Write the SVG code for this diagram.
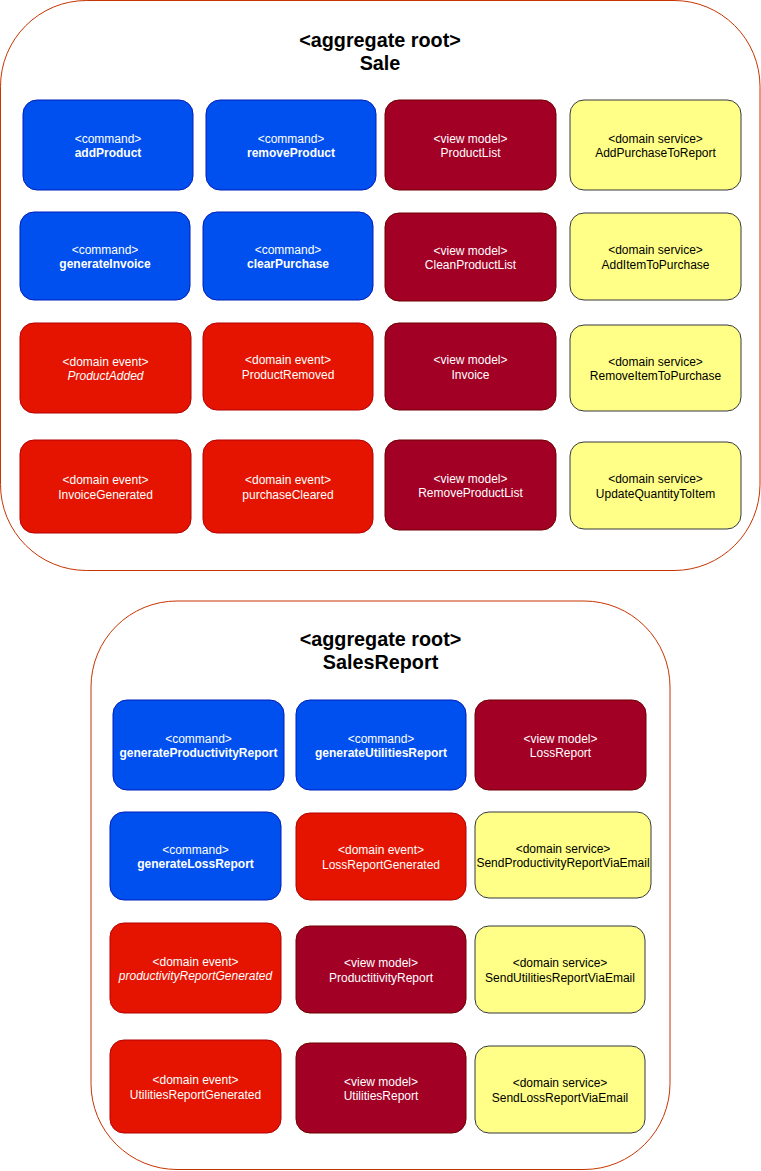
<svg xmlns="http://www.w3.org/2000/svg" width="761" height="1171" viewBox="0 0 761 1171">
<style>
text{font-family:"Liberation Sans",Arial,Helvetica,sans-serif;text-anchor:middle}
.agg{fill:#ffffff;stroke:#C73500;stroke-width:1}
.title{font-size:19.8px;font-weight:bold;fill:#000}
.cmd rect{fill:#0050EF;stroke:#001DBC}
.ev rect{fill:#E51400;stroke:#B20000}
.vm rect{fill:#A20025;stroke:#6F0000}
.ds rect{fill:#FFFF88;stroke:#36393D}
.n text{font-size:12px;fill:#ffffff}
.ds text{fill:#000000}
.cmd .l2{font-weight:bold}
.it{font-style:italic}
</style>
<g id="sale">
<rect class="agg" x="0.5" y="0.5" width="759.5" height="570" rx="86" ry="86"/>
<text class="title" x="380" y="46.5">&lt;aggregate root&gt;</text>
<text class="title" x="380" y="69.5">Sale</text>
</g>
<g id="salesreport">
<rect class="agg" x="91" y="601" width="579" height="568.5" rx="86" ry="86"/>
<text class="title" x="380.5" y="646">&lt;aggregate root&gt;</text>
<text class="title" x="380.5" y="669">SalesReport</text>
</g>
<g id="connectors"/>
<g id="addProduct" class="n cmd"><rect x="23" y="100" width="170" height="90" rx="14"/><text x="108" y="142.5">&lt;command&gt;</text><text class="l2" x="108" y="157">addProduct</text></g>
<g id="removeProduct" class="n cmd"><rect x="206" y="100" width="170" height="90" rx="14"/><text x="291" y="142.5">&lt;command&gt;</text><text class="l2" x="291" y="157">removeProduct</text></g>
<g id="ProductList" class="n vm"><rect x="385" y="100" width="171" height="90" rx="14"/><text x="470.5" y="142.5">&lt;view model&gt;</text><text x="470.5" y="157">ProductList</text></g>
<g id="AddPurchaseToReport" class="n ds"><rect x="570" y="100" width="171" height="90" rx="14"/><text x="655.5" y="142.5">&lt;domain service&gt;</text><text x="655.5" y="157">AddPurchaseToReport</text></g>

<g id="generateInvoice" class="n cmd"><rect x="20" y="212" width="170" height="88" rx="14"/><text x="105" y="253.5">&lt;command&gt;</text><text class="l2" x="105" y="268">generateInvoice</text></g>
<g id="clearPurchase" class="n cmd"><rect x="203" y="212" width="170" height="88" rx="14"/><text x="288" y="253.5">&lt;command&gt;</text><text class="l2" x="288" y="268">clearPurchase</text></g>
<g id="CleanProductList" class="n vm"><rect x="385" y="213" width="171" height="88" rx="14"/><text x="470.5" y="254.5">&lt;view model&gt;</text><text x="470.5" y="269">CleanProductList</text></g>
<g id="AddItemToPurchase" class="n ds"><rect x="570" y="213" width="171" height="87" rx="14"/><text x="655.5" y="254">&lt;domain service&gt;</text><text x="655.5" y="268.5">AddItemToPurchase</text></g>

<g id="ProductAdded" class="n ev"><rect x="20" y="323" width="171" height="90" rx="14"/><text x="105.5" y="365.5">&lt;domain event&gt;</text><text class="it" x="105.5" y="380">ProductAdded</text></g>
<g id="ProductRemoved" class="n ev"><rect x="203" y="323" width="170" height="87" rx="14"/><text x="288" y="364">&lt;domain event&gt;</text><text x="288" y="378.5">ProductRemoved</text></g>
<g id="Invoice" class="n vm"><rect x="385" y="323" width="171" height="87" rx="14"/><text x="470.5" y="364">&lt;view model&gt;</text><text x="470.5" y="378.5">Invoice</text></g>
<g id="RemoveItemToPurchase" class="n ds"><rect x="570" y="325" width="171" height="86" rx="14"/><text x="655.5" y="365.5">&lt;domain service&gt;</text><text x="655.5" y="380">RemoveItemToPurchase</text></g>

<g id="InvoiceGenerated" class="n ev"><rect x="20" y="440" width="171" height="93" rx="14"/><text x="105.5" y="484">&lt;domain event&gt;</text><text x="105.5" y="498.5">InvoiceGenerated</text></g>
<g id="purchaseCleared" class="n ev"><rect x="203" y="440" width="170" height="93" rx="14"/><text x="288" y="484">&lt;domain event&gt;</text><text x="288" y="498.5">purchaseCleared</text></g>
<g id="RemoveProductList" class="n vm"><rect x="385" y="440" width="171" height="90" rx="14"/><text x="470.5" y="482.5">&lt;view model&gt;</text><text x="470.5" y="497">RemoveProductList</text></g>
<g id="UpdateQuantityToItem" class="n ds"><rect x="570" y="442" width="171" height="87" rx="14"/><text x="655.5" y="483">&lt;domain service&gt;</text><text x="655.5" y="497.5">UpdateQuantityToItem</text></g>

<g id="generateProductivityReport" class="n cmd"><rect x="113" y="700" width="171" height="90" rx="14"/><text x="198.5" y="742.5">&lt;command&gt;</text><text class="l2" x="198.5" y="757">generateProductivityReport</text></g>
<g id="generateUtilitiesReport" class="n cmd"><rect x="296" y="700" width="170" height="90" rx="14"/><text x="381" y="742.5">&lt;command&gt;</text><text class="l2" x="381" y="757">generateUtilitiesReport</text></g>
<g id="LossReport" class="n vm"><rect x="475" y="700" width="171" height="90" rx="14"/><text x="560.5" y="742.5">&lt;view model&gt;</text><text x="560.5" y="757">LossReport</text></g>

<g id="generateLossReport" class="n cmd"><rect x="110" y="812" width="171" height="88" rx="14"/><text x="195.5" y="853.5">&lt;command&gt;</text><text class="l2" x="195.5" y="868">generateLossReport</text></g>
<g id="LossReportGenerated" class="n ev"><rect x="296" y="813" width="170" height="87" rx="14"/><text x="381" y="854">&lt;domain event&gt;</text><text x="381" y="868.5">LossReportGenerated</text></g>
<g id="SendProductivityReportViaEmail" class="n ds"><rect x="475" y="812" width="176" height="86" rx="14"/><text x="563" y="852.5">&lt;domain service&gt;</text><text x="563" y="867">SendProductivityReportViaEmail</text></g>

<g id="productivityReportGenerated" class="n ev"><rect x="110" y="923" width="171" height="90" rx="14"/><text x="195.5" y="965.5">&lt;domain event&gt;</text><text class="it" x="195.5" y="980">productivityReportGenerated</text></g>
<g id="ProductitivityReport" class="n vm"><rect x="296" y="926" width="170" height="87" rx="14"/><text x="381" y="967">&lt;view model&gt;</text><text x="381" y="981.5">ProductitivityReport</text></g>
<g id="SendUtilitiesReportViaEmail" class="n ds"><rect x="475" y="926" width="170" height="87" rx="14"/><text x="560" y="967">&lt;domain service&gt;</text><text x="560" y="981.5">SendUtilitiesReportViaEmail</text></g>

<g id="UtilitiesReportGenerated" class="n ev"><rect x="110" y="1040" width="171" height="93" rx="14"/><text x="195.5" y="1084">&lt;domain event&gt;</text><text x="195.5" y="1098.5">UtilitiesReportGenerated</text></g>
<g id="UtilitiesReport" class="n vm"><rect x="296" y="1043" width="170" height="90" rx="14"/><text x="381" y="1085.5">&lt;view model&gt;</text><text x="381" y="1100">UtilitiesReport</text></g>
<g id="SendLossReportViaEmail" class="n ds"><rect x="475" y="1046" width="170" height="87" rx="14"/><text x="560" y="1087">&lt;domain service&gt;</text><text x="560" y="1101.5">SendLossReportViaEmail</text></g>
</svg>
